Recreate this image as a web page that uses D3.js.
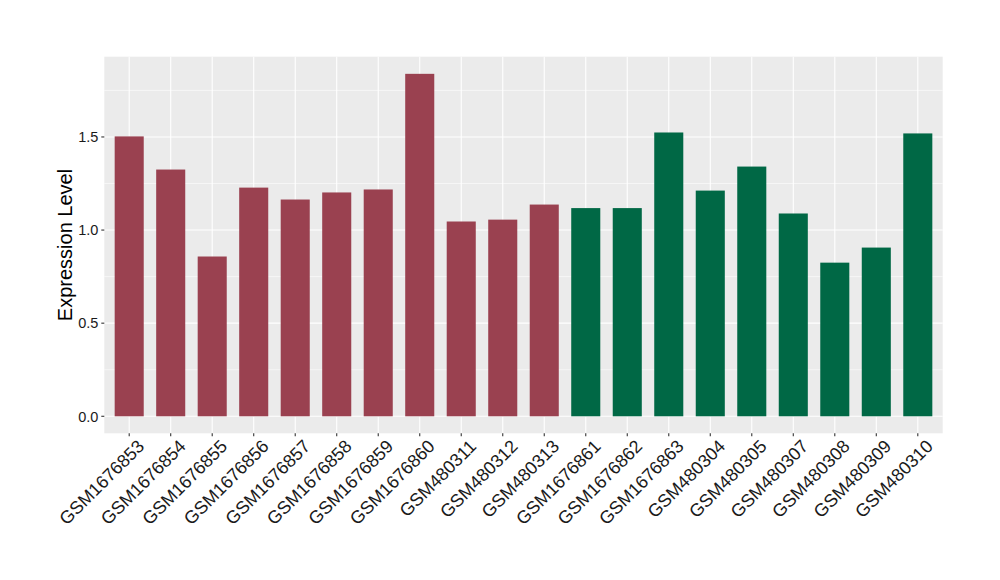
<!DOCTYPE html>
<html><head><meta charset="utf-8">
<script src="https://cdn.jsdelivr.net/npm/d3@7"></script>
<style>body{margin:0;background:#fff}</style>
</head><body>
<svg id="chart" width="1000" height="580"></svg>
<script>
const categories = ["GSM1676853","GSM1676854","GSM1676855","GSM1676856","GSM1676857","GSM1676858","GSM1676859","GSM1676860","GSM480311","GSM480312","GSM480313","GSM1676861","GSM1676862","GSM1676863","GSM480304","GSM480305","GSM480307","GSM480308","GSM480309","GSM480310"];
const values = [1.503,1.325,0.858,1.228,1.164,1.202,1.218,1.839,1.046,1.056,1.137,1.118,1.118,1.524,1.212,1.341,1.089,0.825,0.906,1.519];
const groups = ["A","A","A","A","A","A","A","A","A","A","A","B","B","B","B","B","B","B","B","B"];
const groupColors = {A:"#9A4150", B:"#006845"};
const yTicks = [0,0.5,1.0,1.5];
const yMinor = [0.25,0.75,1.25,1.75];
const yTitle = "Expression Level";

const svg = d3.select("#chart");
const L=104.3, R=942.7, T=56.7, B=433.3;
const y = d3.scaleLinear().domain([-0.0914, 1.931]).range([B, T]);
const xc = d3.scalePoint().domain(categories).range([L, R]).padding(0.6);
const bw = 0.7 * xc.step();

svg.append("rect").attr("x",L).attr("y",T).attr("width",R-L).attr("height",B-T).attr("fill","#EBEBEB");
const g = svg.append("g");
g.selectAll(".minor").data(yMinor).enter().append("line")
  .attr("x1",L).attr("x2",R).attr("y1",d=>y(d)).attr("y2",d=>y(d))
  .attr("stroke","#fff").attr("stroke-width",0.55);
g.selectAll(".major").data(yTicks).enter().append("line")
  .attr("x1",L).attr("x2",R).attr("y1",d=>y(d)).attr("y2",d=>y(d))
  .attr("stroke","#fff").attr("stroke-width",1.1);
g.selectAll(".vmajor").data(categories).enter().append("line")
  .attr("x1",d=>xc(d)).attr("x2",d=>xc(d)).attr("y1",T).attr("y2",B)
  .attr("stroke","#fff").attr("stroke-width",1.1);

g.selectAll(".bar").data(categories).enter().append("rect")
  .attr("x",d=>xc(d)-bw/2).attr("width",bw)
  .attr("y",(d,i)=>y(values[i])).attr("height",(d,i)=>y(0)-y(values[i]))
  .attr("fill",(d,i)=>groupColors[groups[i]]);

// y axis
const ya = svg.append("g");
ya.selectAll("line").data(yTicks).enter().append("line")
  .attr("x1",L-3).attr("x2",L).attr("y1",d=>y(d)).attr("y2",d=>y(d))
  .attr("stroke","#333").attr("stroke-width",1.1);
ya.selectAll("text").data(yTicks).enter().append("text")
  .attr("x",L-6).attr("y",d=>y(d)).attr("dy","0.36em")
  .attr("text-anchor","end").attr("font-family","Liberation Sans, Arial, sans-serif")
  .attr("font-size",14.5).attr("fill","#1a1a1a").text(d=>d3.format(".1f")(d));

// x axis
const xa = svg.append("g");
xa.selectAll("line").data(categories).enter().append("line")
  .attr("x1",d=>xc(d)).attr("x2",d=>xc(d)).attr("y1",B).attr("y2",B+3)
  .attr("stroke","#333").attr("stroke-width",1.1);
xa.selectAll("text").data(categories).enter().append("text")
  .attr("transform",d=>`translate(${xc(d)+7},${B+5}) rotate(-45)`)
  .attr("text-anchor","end").attr("dy","0.72em")
  .attr("font-family","Liberation Sans, Arial, sans-serif")
  .attr("font-size",18).attr("fill","#1a1a1a").text(d=>d);

svg.append("text")
  .attr("transform",`translate(72,${(T+B)/2}) rotate(-90)`)
  .attr("text-anchor","middle").attr("font-family","Liberation Sans, Arial, sans-serif")
  .attr("font-size",20).attr("fill","#000").text(yTitle);
</script>
</body></html>
